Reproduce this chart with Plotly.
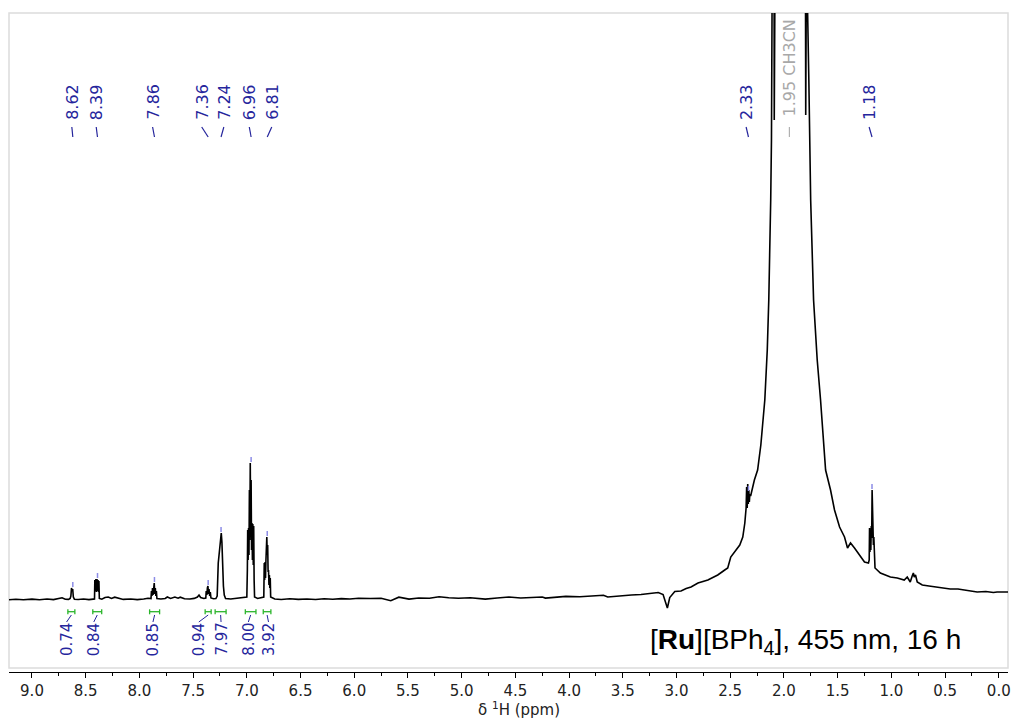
import plotly.graph_objects as go

# ---------------- data ----------------
spectrum = [
    (9.214, 0.3), (9.15, 0.8), (9.08, 0.2), (9.00, 0.9), (8.93, 0.3), (8.86, 1.0), (8.80, 0.4),
    (8.75, 1.8), (8.72, 2.2), (8.69, 0.8), (8.66, 0.6),
    (8.645, 1.5), (8.638, 4), (8.632, 12), (8.627, 9), (8.621, 11), (8.615, 3), (8.605, 0.8),
    (8.57, 0.5), (8.52, 1.0), (8.47, 0.4), (8.43, 0.9),
    (8.418, 1.0), (8.415, 20), (8.410, 9), (8.405, 21), (8.400, 8), (8.395, 21), (8.390, 9),
    (8.385, 20), (8.380, 8), (8.377, 19), (8.373, 1.5),
    (8.35, 0.8), (8.32, 2.5), (8.29, 3.0), (8.26, 1.5), (8.23, 2.8), (8.20, 1.8), (8.15, 0.6),
    (8.08, 1.0), (8.02, 0.4), (7.96, 1.0), (7.92, 1.8),
    (7.892, 1.5), (7.888, 9), (7.883, 4), (7.878, 12), (7.873, 5), (7.867, 13), (7.862, 17),
    (7.857, 6), (7.852, 12), (7.847, 4), (7.842, 9), (7.837, 1.5),
    (7.80, 1.0), (7.76, 1.5), (7.74, 3.0), (7.71, 1.5), (7.67, 3.0), (7.64, 1.8), (7.62, 2.8),
    (7.58, 1.2), (7.53, 1.0), (7.49, 1.6), (7.46, 3.0), (7.445, 5.0), (7.43, 2.5), (7.40, 1.5),
    (7.382, 2), (7.378, 9), (7.372, 5), (7.367, 12), (7.362, 14), (7.357, 6), (7.352, 11),
    (7.346, 4), (7.340, 8), (7.334, 2),
    (7.31, 1.2), (7.288, 1.5),
    (7.276, 4), (7.266, 37), (7.255, 52), (7.245, 64), (7.238, 67), (7.232, 58), (7.226, 35),
    (7.218, 14), (7.210, 5), (7.198, 1.5),
    (7.15, 1.0), (7.09, 1.6), (7.04, 2.0), (7.01, 3.0),
    (7.000, 3), (6.995, 30), (6.992, 70), (6.988, 40), (6.984, 72), (6.980, 45), (6.976, 110),
    (6.972, 60), (6.968, 137), (6.964, 70), (6.960, 120), (6.956, 50), (6.952, 77), (6.948, 40),
    (6.944, 76), (6.940, 35), (6.936, 74), (6.932, 20), (6.928, 3),
    (6.90, 1.5), (6.87, 2.0), (6.85, 3.0),
    (6.842, 3), (6.838, 37), (6.834, 20), (6.830, 38), (6.826, 22), (6.822, 40), (6.818, 50),
    (6.814, 63), (6.810, 45), (6.806, 55), (6.802, 28), (6.798, 30), (6.794, 15), (6.790, 25),
    (6.786, 12), (6.782, 22), (6.778, 3),
    (6.74, 1.0), (6.68, 0.5), (6.60, 1.2), (6.52, 0.6), (6.44, 1.0), (6.36, 0.5), (6.28, 1.3),
    (6.20, 0.8), (6.12, 1.4), (6.04, 1.0), (5.96, 1.7), (5.85, 1.5), (5.75, 1.8), (5.66, -0.7),
    (5.585, 2.8), (5.49, 0.9), (5.40, 2.0), (5.30, 1.8), (5.21, 3.2), (5.12, 2.2), (5.03, 1.7),
    (4.92, 2.3), (4.78, 0.9), (4.67, 2.0), (4.56, 3.0), (4.45, 2.0), (4.35, 2.5), (4.25, 3.0),
    (4.22, 1.9), (4.12, 3.0), (4.03, 3.6), (3.90, 3.2), (3.80, 3.6), (3.73, 4.0), (3.68, 4.8),
    (3.64, 3.0), (3.55, 4.0), (3.42, 5.0), (3.33, 5.5), (3.24, 6.5), (3.17, 7.5), (3.125, 5.5),
    (3.085, -8), (3.063, 2.5), (3.016, 8.5), (2.958, 9), (2.91, 11.5), (2.865, 13), (2.80, 17),
    (2.708, 20), (2.616, 25), (2.551, 30), (2.523, 32), (2.495, 43), (2.458, 48), (2.411, 55),
    (2.383, 63), (2.364, 77),
    (2.352, 92), (2.347, 113), (2.342, 92), (2.337, 116), (2.332, 96), (2.327, 110), (2.322, 98),
    (2.317, 106), (2.310, 104), (2.295, 112), (2.275, 120), (2.245, 130), (2.215, 155),
    (2.178, 200), (2.155, 250), (2.141, 300), (2.130, 350), (2.123, 400), (2.116, 460),
    (2.112, 520), (2.108, 650), (2.092, 650), (2.090, 480), (2.080, 650), (1.945, 3500),
    (1.800, 650), (1.797, 485), (1.790, 650), (1.768, 520), (1.761, 470), (1.751, 400),
    (1.724, 300), (1.690, 240), (1.659, 200), (1.612, 130), (1.566, 110), (1.529, 90),
    (1.482, 73), (1.436, 63), (1.408, 52), (1.380, 57), (1.343, 52), (1.288, 43), (1.250, 38),
    (1.213, 37),
    (1.206, 40), (1.203, 72), (1.199, 48), (1.195, 70), (1.191, 50), (1.187, 74), (1.183, 62),
    (1.179, 110), (1.175, 78), (1.171, 95), (1.167, 55), (1.163, 63), (1.159, 42), (1.156, 58),
    (1.152, 32),
    (1.102, 27), (1.05, 25), (1.009, 23), (0.945, 22), (0.90, 21), (0.880, 20), (0.852, 23),
    (0.824, 18), (0.806, 24), (0.795, 27), (0.787, 23), (0.775, 25), (0.759, 18), (0.712, 15),
    (0.65, 14), (0.573, 13), (0.50, 12), (0.452, 11), (0.38, 11), (0.322, 10), (0.26, 9),
    (0.201, 8), (0.12, 8.5), (0.05, 7.5), (0.016, 8), (-0.086, 8),
]
ppm = [p for p, _ in spectrum]
intensity = [v for _, v in spectrum]

# picked peaks
peak_ppm = [8.62, 8.39, 7.86, 7.36, 7.24, 6.96, 6.81, 2.33, 1.18]
peak_top = [12, 21, 17, 14, 67, 137, 63, 108, 110]
peak_text = ["8.62", "8.39", "7.86", "7.36", "7.24", "6.96", "6.81", "2.33", "1.18"]
label_ppm = [8.629, 8.402, 7.877, 7.420, 7.214, 6.977, 6.768, 2.352, 1.207]

solvent_ppm = 1.949
solvent_text = "1.95 CH3CN"

# integrals
int_start = [8.666, 8.434, 7.905, 7.388, 7.295, 7.014, 6.847]
int_end = [8.601, 8.351, 7.812, 7.332, 7.193, 6.915, 6.776]
int_value = ["0.74", "0.84", "0.85", "0.94", "7.97", "8.00", "3.92"]
int_label_ppm = [8.678, 8.425, 7.874, 7.447, 7.240, 6.986, 6.798]

tick_vals = [i * 0.5 for i in range(19)]
tick_text = ["%.1f" % v for v in tick_vals]

# ---------------- styling ----------------
NAVY = "#25259c"
GREEN = "#2bb52b"
FONT = "DejaVu Sans"

fig = go.Figure()

# spectrum
fig.add_trace(go.Scatter(x=ppm, y=intensity, mode="lines",
                         line=dict(color="black", width=1.6), hoverinfo="skip"))

# peak-pick markers
mx, my = [], []
for p, t in zip(peak_ppm, peak_top):
    mx += [p, p, None]
    my += [t + 1, t + 6, None]
fig.add_trace(go.Scatter(x=mx, y=my, mode="lines",
                         line=dict(color="#8c8ce6", width=1.5), hoverinfo="skip"))

# label connectors (top)
cx, cy = [], []
for lp, p in zip(label_ppm, peak_ppm):
    cx += [lp, p, None]
    cy += [473, 463, None]
fig.add_trace(go.Scatter(x=cx, y=cy, mode="lines",
                         line=dict(color=NAVY, width=1.2), hoverinfo="skip"))
fig.add_trace(go.Scatter(x=[solvent_ppm, solvent_ppm], y=[473, 463], mode="lines",
                         line=dict(color="#b0b0b0", width=1.2), hoverinfo="skip"))

# integral brackets
gx, gy = [], []
for s, e in zip(int_start, int_end):
    gx += [s, e, None, s, s, None, e, e, None]
    gy += [-11.7, -11.7, None, -9.3, -14.3, None, -9.3, -14.3, None]
fig.add_trace(go.Scatter(x=gx, y=gy, mode="lines",
                         line=dict(color=GREEN, width=1.3), hoverinfo="skip"))

# integral label connectors
ix, iy = [], []
for lp, s, e in zip(int_label_ppm, int_start, int_end):
    ix += [lp, (s + e) / 2, None]
    iy += [-22, -15, None]
fig.add_trace(go.Scatter(x=ix, y=iy, mode="lines",
                         line=dict(color=NAVY, width=1), hoverinfo="skip"))

annotations = []
for lp, t in zip(label_ppm, peak_text):
    annotations.append(dict(x=lp, y=498, xref="x", yref="y", text=t, textangle=-90,
                            showarrow=False, xanchor="center", yanchor="middle",
                            font=dict(family=FONT, size=16, color=NAVY)))
annotations.append(dict(x=solvent_ppm, y=532, xref="x", yref="y", text=solvent_text,
                        textangle=-90, showarrow=False, xanchor="center", yanchor="middle",
                        font=dict(family=FONT, size=16, color="#a8a8a8")))
for lp, t in zip(int_label_ppm, int_value):
    annotations.append(dict(x=lp, y=-39.5, xref="x", yref="y", text=t, textangle=-90,
                            showarrow=False, xanchor="center", yanchor="middle",
                            font=dict(family=FONT, size=15, color=NAVY)))
annotations.append(dict(x=0.797, y=-41, xref="paper", yref="y",
                        text="[<b>Ru</b>][BPh<sub>4</sub>], 455 nm, 16 h",
                        showarrow=False, xanchor="center", yanchor="middle",
                        font=dict(family="Liberation Sans", size=28, color="black")))
annotations.append(dict(x=0.511, y=-0.0560, xref="paper", yref="paper",
                        text="δ <sup>1</sup>H (ppm)", showarrow=False,
                        xanchor="center", yanchor="middle",
                        font=dict(family=FONT, size=15, color="#222222")))

fig.update_layout(
    width=1011, height=719,
    margin=dict(l=9, r=0, t=13, b=47),
    plot_bgcolor="white", paper_bgcolor="white",
    showlegend=False,
    annotations=annotations,
    shapes=[dict(type="rect", xref="paper", yref="paper", x0=0, x1=1.0,
                 y0=0.00607, y1=1.0, line=dict(color="#dcdcdc", width=1.5), layer="below")],
    xaxis=dict(range=[9.214, -0.086], tickmode="array", tickvals=tick_vals, ticktext=tick_text,
               ticks="outside", ticklen=5, tickwidth=1, tickcolor="black",
               showline=True, linecolor="black", linewidth=1,
               showgrid=False, zeroline=False, ticklabeloverflow="allow",
               minor=dict(ticks="outside", ticklen=3, dtick=0.25, tick0=0,
                          tickcolor="black", showgrid=False),
               tickfont=dict(family=FONT, size=15, color="#222222")),
    yaxis=dict(range=[-72, 587], visible=False, showgrid=False, zeroline=False),
)

fig.write_html("out.html")
